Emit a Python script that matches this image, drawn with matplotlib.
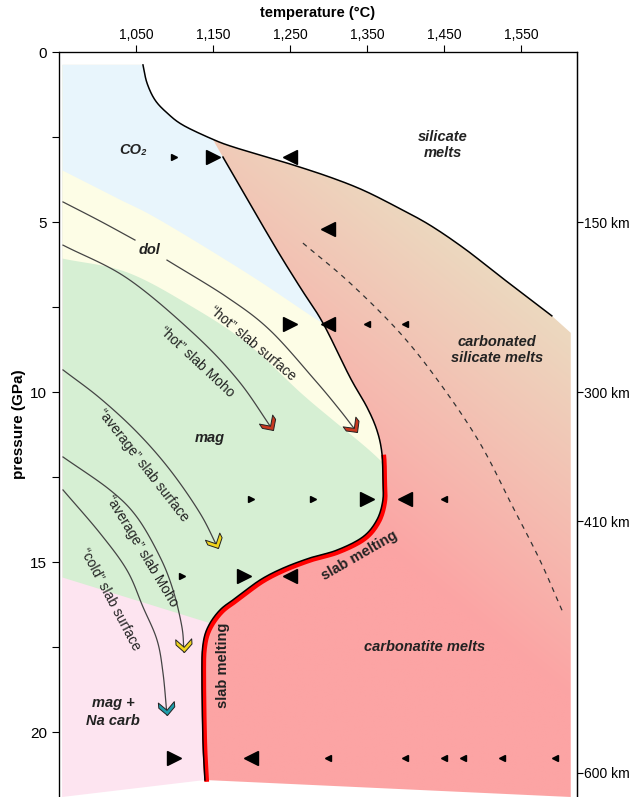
import numpy as np
import matplotlib.pyplot as plt
from matplotlib.patches import Polygon
from matplotlib.markers import MarkerStyle
from matplotlib.path import Path
from matplotlib.transforms import Affine2D, offset_copy

plt.rcParams['font.family'] = ['Liberation Sans', 'DejaVu Sans']

# --- boundaries (temperature degC, pressure GPa) ---
# upper solidus (silicate melts)
curveA_T = [1059.1, 1064.3, 1074.7, 1090.3, 1111.0, 1150.0, 1176.0, 1220.1, 1253.9,
            1302.0, 1344.8, 1389.0, 1431.8, 1477.3, 1522.7, 1590.3]
curveA_P = [0.38, 0.91, 1.41, 1.79, 2.15, 2.57, 2.79, 3.09, 3.32,
            3.68, 4.06, 4.56, 5.09, 5.79, 6.59, 7.76]
junction = 5  # where curve B leaves curve A
# CO2 / carbonate breakdown and carbonate solidus
curveB_T = [1150.0, 1163.0, 1227.9, 1263.0, 1292.9, 1327.9, 1350.0, 1363.0,
            1369.5, 1370.8, 1370.8, 1363.0, 1344.8, 1311.0, 1276.0, 1240.9,
            1211.0, 1181.2, 1159.1, 1143.5, 1137.0, 1135.7, 1137.0, 1139.6]
curveB_P = [2.57, 3.09, 5.62, 6.91, 7.97, 9.56, 10.44, 11.12,
            11.79, 12.59, 13.18, 13.76, 14.26, 14.65, 14.88, 15.18,
            15.53, 16.03, 16.41, 16.91, 17.44, 18.26, 20.24, 21.41]
melt_start = 8  # slab melting from here on

# phase field boundaries on the subsolidus side
co2_dol_T = [953.9, 1025.3, 1081.2, 1194.2, 1279.9, 1310.0, 1400.0]
co2_dol_P = [3.47, 4.29, 4.94, 6.50, 7.79, 8.20, 9.50]
dol_mag_T = [953.9, 1038.3, 1124.0, 1194.2, 1263.0, 1305.8, 1340.9, 1364.3, 1392.9]
dol_mag_P = [6.06, 6.47, 7.50, 8.56, 10.00, 10.82, 11.47, 11.94, 12.59]
mag_na_T = [953.9, 1142.2, 1165.0, 1400.0]
mag_na_P = [15.44, 16.76, 16.92, 17.50]

# dashed line in the melt field
dash_T = [1266.9, 1327.9, 1392.9, 1444.8, 1496.8, 1539.6, 1574.7, 1604.5]
dash_P = [5.62, 6.79, 8.26, 9.74, 11.50, 13.38, 14.94, 16.47]

# slab P-T paths
hot_surf1_T = [955.2, 1003.2, 1048.7]
hot_surf1_P = [4.41, 4.97, 5.53]
hot_surf2_T = [1090.3, 1168.2, 1224.0, 1282.5, 1314.9, 1337.0]
hot_surf2_P = [6.12, 7.21, 8.18, 9.65, 10.53, 11.18]
hot_moho_T = [955.2, 1038.3, 1124.0, 1182.5, 1227.9]
hot_moho_P = [5.68, 6.65, 8.26, 9.65, 11.12]
avg_surf_T = [955.2, 1003.2, 1051.3, 1094.2, 1133.1, 1156.5]
avg_surf_P = [9.35, 10.18, 11.18, 12.29, 13.56, 14.59]
avg_moho_T = [955.2, 1016.2, 1051.3, 1081.2, 1098.1, 1109.7, 1112.3]
avg_moho_P = [11.91, 12.88, 13.68, 14.85, 15.82, 16.91, 17.65]
cold_surf_T = [955.2, 1003.2, 1038.3, 1059.1, 1077.3, 1085.1, 1090.3]
cold_surf_P = [12.88, 14.15, 15.24, 16.32, 17.29, 18.26, 19.50]

# experiments: (T, P, direction, big?)
exp_T = [1100, 1150, 1250, 1300, 1250, 1300, 1350, 1400,
         1200, 1280, 1350, 1400, 1450, 1110, 1190, 1250,
         1100, 1200, 1300, 1400, 1450, 1475, 1525, 1595]
exp_P = [3.1, 3.1, 3.1, 5.2, 8.0, 8.0, 8.0, 8.0,
         13.15, 13.15, 13.15, 13.15, 13.15, 15.4, 15.4, 15.4,
         20.76, 20.76, 20.76, 20.76, 20.76, 20.76, 20.76, 20.76]
exp_dir = ['>', '>', '<', '<', '>', '<', '<', '<',
           '>', '>', '>', '<', '<', '>', '>', '<',
           '>', '<', '<', '<', '<', '<', '<', '<']
exp_big = [0, 1, 1, 1, 1, 1, 0, 0,
           0, 0, 1, 1, 0, 0, 1, 1,
           1, 1, 0, 0, 0, 0, 0, 0]

temp_ticks = [1050, 1150, 1250, 1350, 1450, 1550]
temp_labels = ['1,050', '1,150', '1,250', '1,350', '1,450', '1,550']
p_ticks = [0, 5, 10, 15, 20]
depth_P = [5.0, 10.0, 13.8, 21.2]
depth_labels = ['150 km', '300 km', '410 km', '600 km']

x0, x1 = 950, 1623
pbot = 21.91
left_edge = 953.9
ptop = 0.38
N = 16  # spline steps per segment


def smooth(ts, ps, n=N):
    # Catmull-Rom through the read points, for drawing only
    pts = np.column_stack([ts, ps]).astype(float)
    if len(pts) < 3:
        return pts[:, 0], pts[:, 1]
    P = np.vstack([2 * pts[0] - pts[1], pts, 2 * pts[-1] - pts[-2]])
    out = []
    for i in range(1, len(P) - 2):
        p0, p1, p2, p3 = P[i - 1], P[i], P[i + 1], P[i + 2]
        for t in np.linspace(0, 1, n, endpoint=False):
            out.append(0.5 * (2 * p1 + (p2 - p0) * t + (2 * p0 - 5 * p1 + 4 * p2 - p3) * t ** 2
                              + (3 * p1 - p0 - 3 * p2 + p3) * t ** 3))
    out.append(pts[-1])
    out = np.array(out)
    return out[:, 0], out[:, 1]


aT, aP = smooth(curveA_T, curveA_P)
bT, bP = smooth(curveB_T, curveB_P)
ja = junction * N

fig = plt.figure(figsize=(6.33, 7.97), dpi=100)
ax = fig.add_axes([59 / 633, 0.0, 518 / 633, 1 - 52 / 797])

# left (subsolidus) side
left_poly = [(left_edge, ptop)] + list(zip(aT[:ja + 1], aP[:ja + 1]))
left_poly += list(zip(bT, bP))
left_poly += [(left_edge, pbot)]
left_patch = Polygon(left_poly, closed=True, fc='#fde4f0', ec='none', zorder=1)
ax.add_patch(left_patch)

bands = [(mag_na_T, mag_na_P, '#d6efd3'),
         (dol_mag_T, dol_mag_P, '#fdfde6'),
         (co2_dol_T, co2_dol_P, '#e8f5fc')]
for bt, bp, col in bands:
    st, sp = smooth(bt, bp)
    f = ax.fill_between(st, sp, 0, color=col, lw=0, zorder=1)
    f.set_clip_path(left_patch)

# melt side with gradient
right_poly = list(zip(aT[ja:], aP[ja:]))
right_poly += [(1614.9, 8.26), (1614.9, pbot)]
right_poly += list(zip(bT[::-1], bP[::-1]))
right_patch = Polygon(right_poly, closed=True, fc='none', ec='none')
ax.add_patch(right_patch)

gT = np.linspace(x0, x1, 300)
gP = np.linspace(0, pbot, 300)
TT, PP = np.meshgrid(gT, gP)
px = 59 + (TT - 950) * 0.77
py = 52 + PP * 34
t = np.clip(-0.002214 * (px - 550) + 0.002753 * (py - 317), 0, 1)[..., None]
beige = np.array([236, 216, 191]) / 255
red = np.array([252, 164, 164]) / 255
img = beige * (1 - t) + red * t
im = ax.imshow(img, extent=(x0, x1, pbot, 0), origin='upper', aspect='auto',
               interpolation='bilinear', zorder=1)
im.set_clip_path(right_patch)

# boundaries
ax.plot(aT, aP, color='black', lw=1.1, zorder=3)
red_tr = offset_copy(ax.transData, fig=fig, x=1.3, y=-1.3, units='points')
ax.plot(bT[melt_start * N:], bP[melt_start * N:], color='#ff0000', lw=3.4,
        zorder=3, transform=red_tr, solid_capstyle='butt')
ax.plot(bT[N:], bP[N:], color='black', lw=1.1, zorder=4)
dT, dP = smooth(dash_T, dash_P)
ax.plot(dT, dP, color='#333333', lw=0.9, ls=(0, (4, 4)), zorder=3)

# slab paths with chevrons
chev = Path([(0, 0), (-1.0, 1.0), (-1.65, 1.0), (-0.65, 0), (-1.65, -1.0), (-1.0, -1.0), (0, 0)],
            [Path.MOVETO] + [Path.LINETO] * 5 + [Path.CLOSEPOLY])

ax.set_xlim(x0, x1)
ax.set_ylim(pbot, 0)


def slab_path(ts, ps, col=None):
    st, sp = smooth(ts, ps)
    ax.plot(st, sp, color='#444444', lw=0.9, zorder=5)
    if col is None:
        return
    a = ax.transData.transform((st[-4], sp[-4]))
    b = ax.transData.transform((st[-1], sp[-1]))
    ang = np.degrees(np.arctan2(b[1] - a[1], b[0] - a[0]))
    m = MarkerStyle(chev, transform=Affine2D().rotate_deg(ang))
    ax.plot(st[-1], sp[-1], marker=m, ms=19, mfc=col, mec='#222222', mew=0.7,
            ls='none', zorder=6)


slab_path(hot_surf1_T, hot_surf1_P)
slab_path(hot_surf2_T, hot_surf2_P, '#c8381f')
slab_path(hot_moho_T, hot_moho_P, '#c8381f')
slab_path(avg_surf_T, avg_surf_P, '#f0d41c')
slab_path(avg_moho_T, avg_moho_P, '#f0d41c')
slab_path(cold_surf_T, cold_surf_P, '#1f9caa')

# experiments
for et, ep, d, big in zip(exp_T, exp_P, exp_dir, exp_big):
    ax.plot(et, ep, marker=d, ms=10 if big else 5, color='black', ls='none', zorder=7)

# labels
bi = dict(fontsize=10.5, fontweight='bold', fontstyle='italic', ha='center', va='center',
          color='#222222', zorder=8)
ax.text(1046, 2.88, 'CO₂', **bi)
ax.text(1449, 2.74, 'silicate\nmelts', linespacing=1.2, **bi)
ax.text(1519, 8.76, 'carbonated\nsilicate melts', linespacing=1.2, **bi)
ax.text(1068, 5.82, 'dol', **bi)
ax.text(1146, 11.35, 'mag', **bi)
ax.text(1425, 17.5, 'carbonatite melts', **bi)
ax.text(1020, 19.41, 'mag +\nNa carb', linespacing=1.3, **bi)

sm = dict(fontsize=10.5, fontweight='bold', ha='center', va='center', color='#222222', zorder=8)
ax.text(1341, 14.82, 'slab melting', rotation=30, **sm)
ax.text(1163, 18.03, 'slab melting', rotation=90, **sm)

cl = dict(fontsize=10, ha='center', va='center', color='#222222', zorder=8,
          rotation_mode='anchor')
ax.text(1202, 8.56, '“hot” slab surface', rotation=-40, **cl)
ax.text(1129, 9.12, '“hot” slab Moho', rotation=-43, **cl)
ax.text(1059, 12.15, '“average” slab surface', rotation=-52, **cl)
ax.text(1058, 14.68, '“average” slab Moho', rotation=-59, **cl)
ax.text(1016, 16.1, '“cold” slab surface', rotation=-62, **cl)

# axes
ax.xaxis.tick_top()
ax.xaxis.set_label_position('top')
ax.set_xticks(temp_ticks)
ax.set_xticklabels(temp_labels, fontsize=10)
ax.set_xlabel('temperature (°C)', fontsize=10.5, fontweight='bold', labelpad=8)
ax.set_yticks(p_ticks)
ax.set_yticklabels([str(p) for p in p_ticks], fontsize=11)
ax.set_yticks([2.5, 7.5, 12.5, 17.5], minor=True)
ax.set_ylabel('pressure (GPa)', fontsize=11, fontweight='bold', labelpad=3)
ax.tick_params(axis='both', which='both', direction='out', length=5, width=0.8)
ax.tick_params(axis='x', pad=2)
ax.spines['bottom'].set_visible(False)
for s in ['top', 'left', 'right']:
    ax.spines[s].set_linewidth(0.9)

ax2 = ax.twinx()
ax2.set_ylim(pbot, 0)
ax2.set_yticks(depth_P)
ax2.set_yticklabels(depth_labels, fontsize=10)
ax2.tick_params(axis='y', direction='out', length=4, width=0.8, pad=1)
ax2.spines['bottom'].set_visible(False)
ax2.spines['right'].set_linewidth(0.9)

fig.savefig('out.png', dpi=100)
